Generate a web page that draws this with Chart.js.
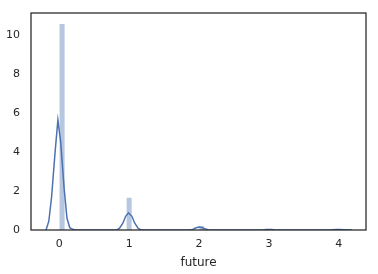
<!DOCTYPE html>
<html>
<head>
<meta charset="utf-8">
<script src="https://cdn.jsdelivr.net/npm/chart.js@4/dist/chart.umd.min.js"></script>
<style>
  html, body { margin: 0; padding: 0; background: #fff; }
  #wrap { width: 378px; height: 274px; }
</style>
</head>
<body>
<div id="wrap"><canvas id="myChart" width="378" height="274"></canvas></div>
<script>
// histogram: 50 bins of width 0.08 starting at 0, density values
const binStart = 0;
const binWidth = 0.08;
const histDensity = [
  10.55, 0, 0, 0, 0, 0, 0, 0, 0, 0,
  0, 0, 1.65, 0, 0, 0, 0, 0, 0, 0,
  0, 0, 0, 0, 0, 0.2, 0, 0, 0, 0,
  0, 0, 0, 0, 0, 0, 0, 0.03, 0, 0,
  0, 0, 0, 0, 0, 0, 0, 0, 0, 0.02
];

// kde curve
const kdeX = [-0.19, -0.15, -0.11, -0.06, -0.02, 0.02, 0.07, 0.11, 0.15, 0.2, 0.24,
  0.82, 0.86, 0.91, 0.95, 0.99, 1.04, 1.08, 1.13, 1.17,
  1.87, 1.91, 1.95, 2.0, 2.04, 2.08, 2.13, 2.17,
  2.91, 2.96, 3.0, 3.04, 3.09,
  3.87, 3.96, 4.0, 4.09, 4.19];
const kdeY = [0, 0.45, 1.7, 4.0, 5.63, 4.5, 2.1, 0.6, 0.12, 0.02, 0,
  0, 0.08, 0.35, 0.7, 0.88, 0.7, 0.35, 0.08, 0,
  0, 0.03, 0.1, 0.15, 0.13, 0.06, 0.01, 0,
  0, 0.02, 0.03, 0.02, 0,
  0, 0.02, 0.02, 0.01, 0];

const xTicks = [0, 1, 2, 3, 4];
const yTicks = [0, 2, 4, 6, 8, 10];
const xLabel = 'future';

const histPoints = histDensity.map((d, i) => ({ x: binStart + binWidth * (i + 0.5), y: d }));
const kdePoints = kdeX.map((x, i) => ({ x: x, y: kdeY[i] }));

// draws the box around the axes, like the matplotlib spines
const frame = {
  id: 'frame',
  afterDraw(chart) {
    const a = chart.chartArea;
    const c = chart.ctx;
    c.save();
    c.strokeStyle = '#262626';
    c.lineWidth = 1.25;
    c.strokeRect(a.left, a.top, a.right - a.left, a.bottom - a.top);
    c.restore();
  }
};

const ctx = document.getElementById('myChart').getContext('2d');
new Chart(ctx, {
  type: 'bar',
  data: {
    datasets: [
      {
        type: 'line',
        data: kdePoints,
        borderColor: '#4c72b0',
        borderWidth: 1.5,
        pointRadius: 0,
        tension: 0,
        fill: false,
        order: 0
      },
      {
        type: 'bar',
        data: histPoints,
        backgroundColor: 'rgba(76, 114, 176, 0.4)',
        borderWidth: 0,
        barPercentage: 0.9,
        categoryPercentage: 1,
        order: 1
      }
    ]
  },
  options: {
    responsive: false,
    animation: false,
    layout: { padding: { left: 0, top: 13, right: 12, bottom: 0 } },
    plugins: { legend: { display: false }, tooltip: { enabled: false } },
    scales: {
      x: {
        type: 'linear',
        min: -0.405,
        max: 4.39,
        offset: false,
        grid: { display: false, drawTicks: false },
        border: { display: false },
        afterBuildTicks: s => { s.ticks = xTicks.map(v => ({ value: v })); },
        afterFit: s => { s.height = 44; s.paddingLeft = 0; s.paddingRight = 0; },
        ticks: { color: '#262626', padding: 8, font: { family: 'DejaVu Sans', size: 11 }, maxRotation: 0 },
        title: { display: true, text: xLabel, color: '#262626', padding: { top: 4 }, font: { family: 'DejaVu Sans', size: 12 } }
      },
      y: {
        min: 0,
        max: 11.11,
        grid: { display: false, drawTicks: false },
        border: { display: false },
        afterBuildTicks: s => { s.ticks = yTicks.map(v => ({ value: v })); },
        afterFit: s => { s.width = 31; s.paddingTop = 0; s.paddingBottom = 0; },
        ticks: { color: '#262626', padding: 11, font: { family: 'DejaVu Sans', size: 11 } }
      }
    }
  },
  plugins: [frame]
});
</script>
</body>
</html>
